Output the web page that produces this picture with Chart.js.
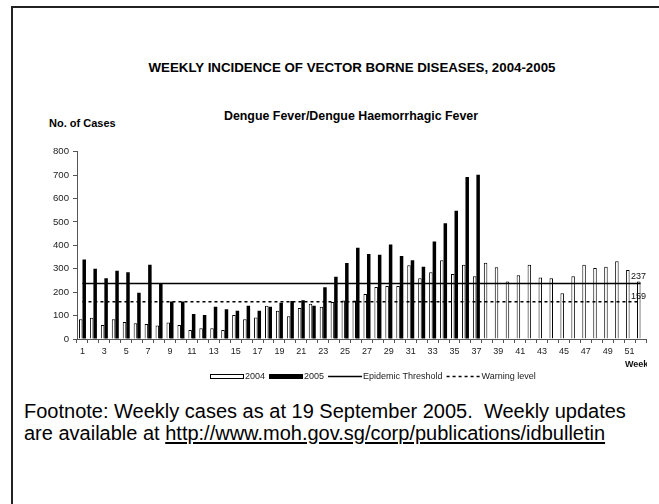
<!DOCTYPE html>
<html>
<head>
<meta charset="utf-8">
<script src="https://cdn.jsdelivr.net/npm/chart.js@4/dist/chart.umd.min.js"></script>
<style>
  body { margin: 0; background: #fff; width: 659px; height: 504px; overflow: hidden; position: relative; font-family: "Liberation Sans", Arial, sans-serif; }
  #frame { position: absolute; left: 11px; top: 6px; right: -4px; bottom: -4px; border-left: 2px solid #222; border-top: 2px solid #222; }
  .txt { position: absolute; white-space: nowrap; color: #000; }
  #title { left: 52px; width: 600px; text-align: center; top: 61px; font-size: 13.3px; font-weight: bold; line-height: 14px; }
  #subtitle { left: 51px; width: 600px; text-align: center; top: 109px; font-size: 12.4px; font-weight: bold; line-height: 14px; }
  #ylabel { left: 49px; top: 116px; font-size: 11px; font-weight: bold; line-height: 14px; }
  #foot { left: 24px; top: 400px; font-size: 20px; line-height: 22px; }
  #foot a { color: #000; text-decoration: underline; text-decoration-thickness: 2px; text-underline-offset: 2px; }
  #chartBox { position: absolute; left: 0; top: 140px; width: 647px; height: 250px; }
</style>
</head>
<body>
<div id="frame"></div>
<div class="txt" id="title">WEEKLY INCIDENCE OF VECTOR BORNE DISEASES, 2004-2005</div>
<div class="txt" id="subtitle">Dengue Fever/Dengue Haemorrhagic Fever</div>
<div class="txt" id="ylabel">No. of Cases</div>
<div id="chartBox"><canvas id="dengueChart" width="647" height="250"></canvas></div>
<div class="txt" id="foot">Footnote: Weekly cases as at 19 September 2005.&nbsp; Weekly updates<br>are available at <a>http://www.moh.gov.sg/corp/publications/idbulletin</a></div>

<script>
  const weeks = ["1","2","3","4","5","6","7","8","9","10","11","12","13","14","15","16","17","18","19","20",
    "21","22","23","24","25","26","27","28","29","30","31","32","33","34","35","36","37","38","39","40",
    "41","42","43","44","45","46","47","48","49","50","51","52"];

  const cases2004 = [84, 91, 60, 84, 73, 67, 64, 58, 70, 60, 38, 46, 46, 38, 102, 84, 92, 142, 121, 97,
    132, 151, 138, 158, 164, 164, 192, 222, 226, 226, 315, 260, 285, 336, 278, 317, 268, 326, 306, 246,
    272, 317, 263, 260, 195, 268, 317, 303, 309, 332, 295, 246];

  const cases2005 = [340, 300, 259, 292, 285, 198, 317, 238, 160, 160, 107, 102, 138, 127, 121, 142, 121, 138, 155, 162,
    165, 142, 221, 266, 325, 390, 363, 360, 404, 354, 336, 309, 416, 494, 548, 692, 702];

  const yTicks = [0, 100, 200, 300, 400, 500, 600, 700, 800];

  const epidemicThreshold = 237;
  const warningLevel = 159;

  // legend row, threshold values at the right end and the "Week" axis title
  const extras = {
    id: "extras",
    afterDraw(chart) {
      const ctx = chart.ctx;
      const y = chart.scales.y;
      const ds = chart.data.datasets;
      ctx.save();

      ctx.fillStyle = "#111";
      ctx.font = "9px 'Liberation Sans', Arial";
      ctx.textBaseline = "bottom";
      ctx.fillText(String(epidemicThreshold), 631, y.getPixelForValue(epidemicThreshold) - 2);
      ctx.fillText(String(warningLevel), 631, y.getPixelForValue(warningLevel) - 1);

      ctx.font = "bold 9px 'Liberation Sans', Arial";
      ctx.textBaseline = "middle";
      ctx.fillText("Weeks", 625, 225);

      // legend
      const ly = 236;
      let x = 210;
      ctx.font = "9px 'Liberation Sans', Arial";
      ds.forEach(d => {
        if (d.type === "line") {
          ctx.strokeStyle = d.borderColor;
          ctx.lineWidth = d.borderWidth;
          ctx.setLineDash(d.borderDash || []);
          ctx.beginPath();
          ctx.moveTo(x, ly + 0.5);
          ctx.lineTo(x + 34, ly + 0.5);
          ctx.stroke();
          ctx.setLineDash([]);
        } else {
          ctx.fillStyle = d.backgroundColor;
          ctx.fillRect(x, ly - 1.5, 34, 4);
          ctx.strokeStyle = "#000";
          ctx.lineWidth = 1;
          ctx.strokeRect(x + 0.5, ly - 1.5, 33, 4);
        }
        ctx.fillStyle = "#222";
        ctx.fillText(d.label, x + 35, ly + 0.5);
        x += 35 + ctx.measureText(d.label).width + 4;
      });

      ctx.restore();
    }
  };

  function drawChart() {
    const ctx = document.getElementById("dengueChart").getContext("2d");

    const config = {
      type: "bar",
      data: {
        labels: weeks,
        datasets: [
          {
            label: "2004",
            data: cases2004,
            backgroundColor: "#ffffff",
            borderColor: "#000000",
            borderWidth: 1,
            borderSkipped: "bottom",
            categoryPercentage: 0.64,
            barPercentage: 1.0,
            order: 2
          },
          {
            label: "2005",
            data: cases2005,
            backgroundColor: "#000000",
            borderWidth: 0,
            categoryPercentage: 0.64,
            barPercentage: 1.0,
            order: 2
          },
          {
            type: "line",
            label: "Epidemic Threshold",
            data: weeks.map(() => epidemicThreshold),
            borderColor: "#000000",
            borderWidth: 1.4,
            pointRadius: 0,
            order: 1
          },
          {
            type: "line",
            label: "Warning level",
            data: weeks.map(() => warningLevel),
            borderColor: "#000000",
            borderWidth: 1.3,
            borderDash: [3, 3],
            pointRadius: 0,
            order: 1
          }
        ]
      },
      options: {
        responsive: false,
        animation: false,
        layout: { padding: { top: 11.7, right: 1, left: 0, bottom: 0 } },
        plugins: {
          legend: { display: false },
          tooltip: { enabled: false }
        },
        scales: {
          x: {
            offset: true,
            grid: { offset: true, drawOnChartArea: false, tickLength: 4, color: "#555" },
            border: { color: "#555", width: 1 },
            ticks: {
              autoSkip: false,
              maxRotation: 0,
              padding: 3,
              color: "#222",
              font: { size: 9, family: "'Liberation Sans', Arial" },
              callback: (v, i) => (i % 2 === 0 ? weeks[i] : "")
            },
            afterFit: s => { s.height = 51; }
          },
          y: {
            min: yTicks[0],
            max: yTicks[yTicks.length - 1],
            afterBuildTicks: s => { s.ticks = yTicks.map(v => ({ value: v })); },
            grid: { drawOnChartArea: false, tickLength: 4, color: "#555" },
            border: { color: "#555", width: 1 },
            ticks: {
              padding: 4,
              color: "#222",
              font: { size: 9.6, family: "'Liberation Sans', Arial" }
            },
            afterFit: s => { s.width = 77; }
          }
        }
      },
      plugins: [extras]
    };

    new Chart(ctx, config);
  }

  document.addEventListener("DOMContentLoaded", drawChart);
</script>
</body>
</html>
